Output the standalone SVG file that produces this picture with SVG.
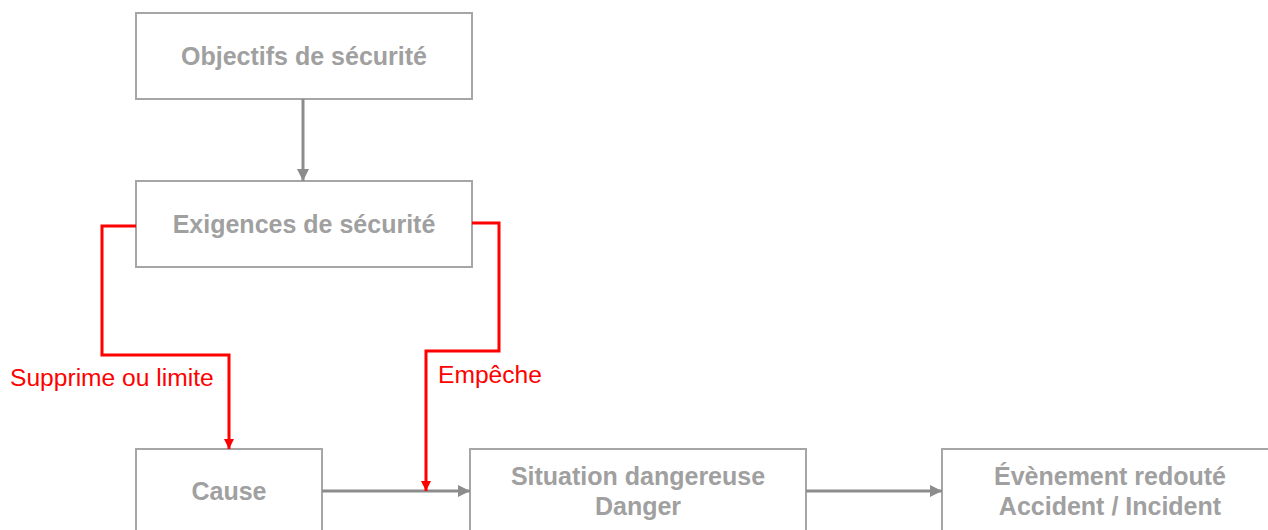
<svg xmlns="http://www.w3.org/2000/svg" width="1268" height="530" viewBox="0 0 1268 530">
<style>
.box{fill:#fff;stroke:#a6a6a6;stroke-width:2}
.t{font-family:"Liberation Sans",Arial,sans-serif;font-size:25px;font-weight:bold;fill:#a0a0a0;text-anchor:middle}
.lbl{font-family:"Liberation Sans",Arial,sans-serif;font-size:24.6px;fill:#ff0000}
.g{fill:none;stroke:#8c8c8c;stroke-width:3}
.r{fill:none;stroke:#ff0000;stroke-width:3}
</style>
<defs>
<marker id="ag" markerWidth="12" markerHeight="12" refX="12" refY="6" orient="auto" markerUnits="userSpaceOnUse" viewBox="0 0 12 12"><path d="M0,0 L12,6 L0,12 z" fill="#8c8c8c"/></marker>
<marker id="ar" markerWidth="10" markerHeight="10" refX="10" refY="5" orient="auto" markerUnits="userSpaceOnUse" viewBox="0 0 10 10"><path d="M0,0 L10,5 L0,10 z" fill="#ff0000"/></marker>
</defs>
<rect width="1268" height="530" fill="#fff"/>
<g id="objectifs"><rect class="box" x="136" y="13" width="336" height="86"/><text class="t" x="304" y="65">Objectifs de sécurité</text></g>
<g id="exigences"><rect class="box" x="136" y="181" width="336" height="86"/><text class="t" x="304" y="233">Exigences de sécurité</text></g>
<g id="cause"><rect class="box" x="136" y="449" width="186" height="100"/><text class="t" x="229" y="500">Cause</text></g>
<g id="situation"><rect class="box" x="470" y="449" width="336" height="100"/><text class="t" x="638" y="485">Situation dangereuse</text><text class="t" x="638" y="515">Danger</text></g>
<g id="evenement"><rect class="box" x="942" y="449" width="336" height="100"/><text class="t" x="1110" y="485">Évènement redouté</text><text class="t" x="1110" y="515">Accident / Incident</text></g>
<g id="connectors">
<path class="g" d="M303,99 V181" marker-end="url(#ag)"/>
<path class="g" d="M322,491 H470" marker-end="url(#ag)"/>
<path class="g" d="M806,491 H942" marker-end="url(#ag)"/>
<path class="r" d="M136,226 H102 V355 H229 V449" marker-end="url(#ar)"/>
<path class="r" d="M472,223 H499 V351 H426 V491" marker-end="url(#ar)"/>
<text class="lbl" x="10" y="386">Supprime ou limite</text>
<text class="lbl" x="438" y="383">Empêche</text>
</g>
</svg>
